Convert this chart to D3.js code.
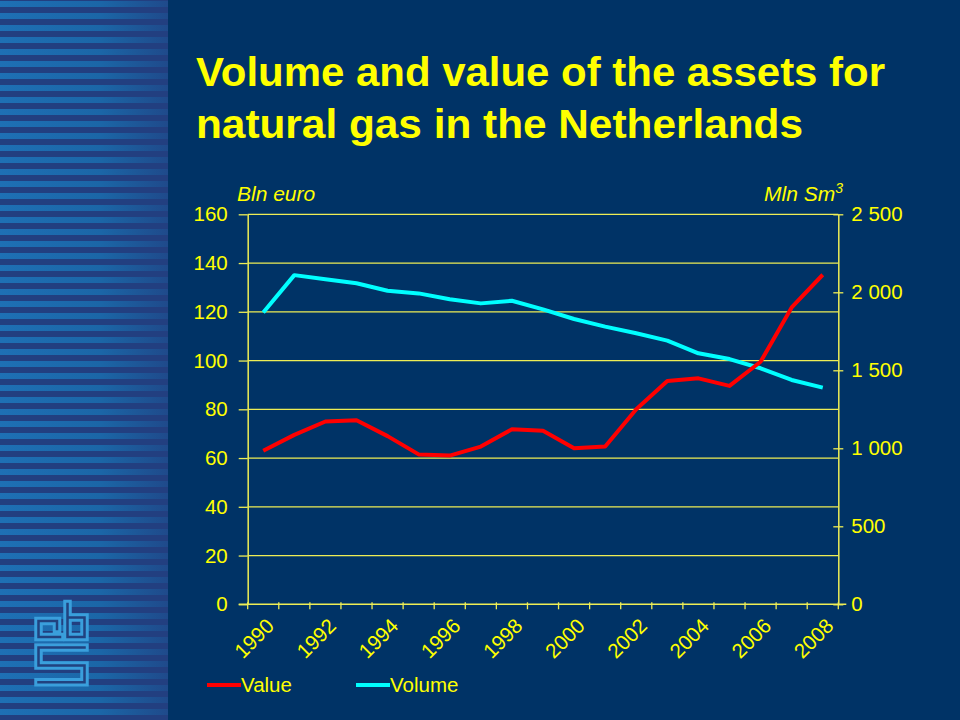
<script src="https://d3js.org/d3.v7.min.js"></script>
<html>
<head>
<style>
  html, body { margin: 0; padding: 0; background: #003366; }
  svg { display: block; }
  text { font-family: "Liberation Sans", Arial, sans-serif; fill: #ffff00; }
</style>
</head>
<body>
<div id="myPlot"></div>
<script>
    const W = 960;
    const H = 720;

    // data
    const years = ['1990','1991','1992','1993','1994','1995','1996','1997','1998','1999',
                   '2000','2001','2002','2003','2004','2005','2006','2007','2008'];
    const valueBln = [63, 69.5, 75, 75.5, 69, 61.5, 61, 64.7, 71.8, 71.2,
                      64, 64.7, 80, 91.6, 92.7, 89.6, 99.5, 121.8, 135.2];
    const volumeMln = [1870, 2110, 2083, 2058, 2010, 1993, 1955, 1929, 1946, 1891,
                       1829, 1780, 1737, 1690, 1609, 1572, 1513, 1438, 1389];
    const leftTicks = [0, 20, 40, 60, 80, 100, 120, 140, 160];
    const rightTicks = [0, 500, 1000, 1500, 2000, 2500];
    const rightTickLabels = ['0', '500', '1 000', '1 500', '2 000', '2 500'];
    const labelYears = ['1990','1992','1994','1996','1998','2000','2002','2004','2006','2008'];

    const plot = {left: 247.7, right: 838.3, top: 214.3, bottom: 604.3};
    const yellow = '#ffff00';
    const lineYellow = '#eeee55';
    const fontSize = '20.5px';

    const svg = d3.select('#myPlot').append('svg')
        .attr('width', W).attr('height', H)
        .attr('viewBox', `0 0 ${W} ${H}`);

    svg.append('rect').attr('width', W).attr('height', H).attr('fill', '#003366');

    // striped band on the left
    const defs = svg.append('defs');
    const grad = defs.append('linearGradient').attr('id', 'stripeGrad')
        .attr('x1', 0).attr('x2', 1).attr('y1', 0).attr('y2', 0);
    grad.append('stop').attr('offset', 0).attr('stop-color', '#1e70b5');
    grad.append('stop').attr('offset', 0.6).attr('stop-color', '#1b66a7');
    grad.append('stop').attr('offset', 1).attr('stop-color', '#1f4a8b');

    const band = svg.append('g');
    band.append('rect').attr('x', 0).attr('y', 0).attr('width', 168).attr('height', H)
        .attr('fill', '#223f80');
    band.selectAll('rect.stripe')
        .data(d3.range(0, H, 12))
        .enter().append('rect')
        .attr('class', 'stripe')
        .attr('x', 0).attr('y', d => d + 1)
        .attr('width', 168).attr('height', 6)
        .attr('fill', 'url(#stripeGrad)');

    // cbs logo
    const logoPaths = [
        'M 57 629 V 621 H 38.5 V 637 H 60',
        'M 67.5 604 V 637 H 84.5 V 617.5 H 67.5',
        'M 84.5 647.5 H 38.5 V 665.5 H 84.5 V 682.2 H 38.5'
    ];
    const logo = svg.append('g').attr('fill', 'none')
        .attr('stroke-linejoin', 'miter').attr('stroke-linecap', 'square');
    logo.selectAll('path.outer').data(logoPaths).enter().append('path')
        .attr('class', 'outer').attr('d', d => d)
        .attr('stroke', '#3a9fdc').attr('stroke-width', 8.5);
    logo.selectAll('path.inner').data(logoPaths).enter().append('path')
        .attr('class', 'inner').attr('d', d => d)
        .attr('stroke', '#21427f').attr('stroke-width', 2.5);

    // title
    const title = svg.append('text')
        .style('font-size', '40px').style('font-weight', 'bold');
    title.append('tspan').attr('x', 196).attr('y', 86)
        .attr('textLength', 689).attr('lengthAdjust', 'spacingAndGlyphs')
        .text('Volume and value of the assets for');
    title.append('tspan').attr('x', 196).attr('y', 137.5)
        .attr('textLength', 607).attr('lengthAdjust', 'spacingAndGlyphs')
        .text('natural gas in the Netherlands');

    // scales
    const x = d3.scaleBand().domain(years).range([plot.left, plot.right]);
    const yL = d3.scaleLinear().domain([0, 160]).range([plot.bottom, plot.top]);
    const yR = d3.scaleLinear().domain([0, 2500]).range([plot.bottom, plot.top]);

    // gridlines
    svg.append('g').selectAll('line')
        .data(leftTicks.filter(d => d > 0))
        .enter().append('line')
        .attr('x1', plot.left).attr('x2', plot.right)
        .attr('y1', d => yL(d)).attr('y2', d => yL(d))
        .attr('stroke', lineYellow).attr('stroke-width', 1.3);

    // left axis
    const gL = svg.append('g')
        .attr('transform', `translate(${plot.left},0)`)
        .call(d3.axisLeft(yL).tickValues(leftTicks).tickSize(9).tickPadding(11).tickSizeOuter(0));
    gL.select('.domain').attr('stroke', lineYellow).attr('stroke-width', 1.5);
    gL.selectAll('.tick line').attr('stroke', lineYellow).attr('stroke-width', 1.3);
    gL.selectAll('.tick text').style('font-size', fontSize).attr('fill', yellow)
        .style('font-family', '"Liberation Sans", Arial, sans-serif');

    // right axis
    const gR = svg.append('g')
        .attr('transform', `translate(${plot.right},0)`)
        .call(d3.axisRight(yR).tickValues(rightTicks)
            .tickFormat((d, i) => rightTickLabels[i])
            .tickSize(5).tickPadding(8).tickSizeOuter(0));
    gR.select('.domain').attr('stroke', lineYellow).attr('stroke-width', 1.5);
    gR.selectAll('.tick line').attr('x1', -5).attr('x2', 5)
        .attr('stroke', lineYellow).attr('stroke-width', 1.3);
    gR.selectAll('.tick text').style('font-size', fontSize).attr('fill', yellow)
        .style('font-family', '"Liberation Sans", Arial, sans-serif');

    // bottom axis: ticks between categories
    const gB = svg.append('g');
    gB.append('line')
        .attr('x1', plot.left - 9).attr('x2', plot.right + 8)
        .attr('y1', plot.bottom).attr('y2', plot.bottom)
        .attr('stroke', lineYellow).attr('stroke-width', 1.5);
    const bounds = years.map(d => x(d)).concat([x.range()[1]]);
    gB.selectAll('line.tick').data(bounds).enter().append('line')
        .attr('class', 'tick')
        .attr('x1', d => d).attr('x2', d => d)
        .attr('y1', plot.bottom - 2).attr('y2', plot.bottom + 5)
        .attr('stroke', lineYellow).attr('stroke-width', 1.3);
    gB.selectAll('text').data(labelYears).enter().append('text')
        .attr('transform', d => `translate(${x(d) + x.bandwidth() / 2 + 12},${plot.bottom + 23}) rotate(-45)`)
        .attr('text-anchor', 'end')
        .style('font-size', fontSize)
        .text(d => d);

    // axis titles
    svg.append('text').attr('x', 237).attr('y', 200.5)
        .style('font-size', '21px').style('font-style', 'italic').text('Bln euro');
    const rt = svg.append('text').attr('x', 843).attr('y', 200.5).attr('text-anchor', 'end')
        .style('font-size', '21px').style('font-style', 'italic');
    rt.append('tspan').text('Mln Sm');
    rt.append('tspan').attr('dy', -8).style('font-size', '14px').text('3');

    // lines
    const cx = d => x(d) + x.bandwidth() / 2;
    const lineL = d3.line().x((d, i) => cx(years[i])).y(d => yL(d));
    const lineR = d3.line().x((d, i) => cx(years[i])).y(d => yR(d));

    svg.append('path').datum(volumeMln)
        .attr('d', lineR).attr('fill', 'none')
        .attr('stroke', '#00ffff').attr('stroke-width', 4).attr('stroke-linejoin', 'round');
    svg.append('path').datum(valueBln)
        .attr('d', lineL).attr('fill', 'none')
        .attr('stroke', '#ff0000').attr('stroke-width', 4).attr('stroke-linejoin', 'round');

    // legend
    const legend = [
        {name: 'Value', color: '#ff0000', x: 207},
        {name: 'Volume', color: '#00ffff', x: 356}
    ];
    const lg = svg.append('g').selectAll('g').data(legend).enter().append('g')
        .attr('transform', d => `translate(${d.x},685)`);
    lg.append('line').attr('x1', 0).attr('x2', 34).attr('y1', 0).attr('y2', 0)
        .attr('stroke', d => d.color).attr('stroke-width', 4);
    lg.append('text').attr('x', 34).attr('y', 7)
        .style('font-size', fontSize).text(d => d.name);
</script>
</body>
</html>
